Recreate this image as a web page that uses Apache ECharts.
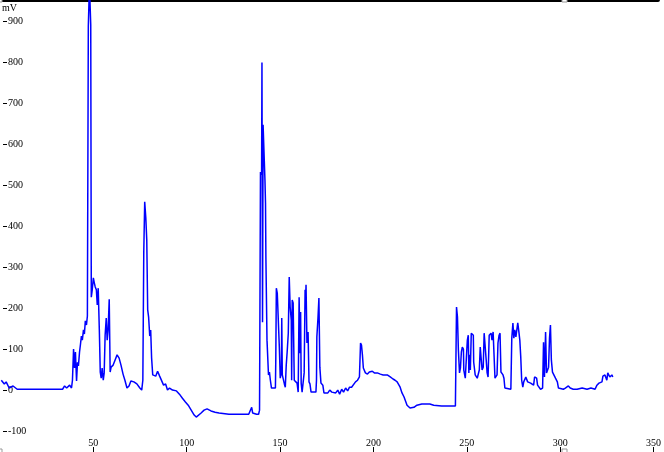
<!DOCTYPE html>
<html>
<head>
<meta charset="utf-8">
<script src="https://cdn.jsdelivr.net/npm/echarts@6/dist/echarts.min.js"></script>
<style>
  html, body { margin: 0; padding: 0; background: #fff; }
  #chart { width: 664px; height: 452px; }
</style>
</head>
<body>
<div id="chart"></div>
<script>
// retention time (x) / detector signal in mV (y)
const startRegion = [
  [0.7, 24], [2.3, 15], [3.3, 20], [4.9, 5], [7.0, 10], [9.2, 2], [21.9, 2], [33.5, 2],
  [34.6, 10], [35.7, 5], [37.3, 12], [38.3, 5], [38.8, 24], [39.4, 100], [39.9, 54], [40.4, 93],
  [41.0, 22], [41.5, 68], [42.0, 59], [42.6, 93], [43.1, 112], [43.6, 132], [44.1, 122], [44.7, 147],
  [45.2, 137], [45.7, 169], [46.3, 159], [46.8, 181], [47.3, 888], [47.9, 990], [48.4, 990], [48.6, 892],
  [48.9, 227], [49.4, 245], [50.0, 274], [50.5, 262], [51.0, 252], [51.6, 245], [52.1, 208], [52.6, 249],
  [53.2, 147], [53.7, 44], [54.2, 29], [54.7, 54], [55.3, 24], [55.8, 42], [56.3, 134], [56.9, 176],
  [57.4, 122], [57.9, 147], [58.5, 222], [59.0, 44], [59.5, 56], [60.6, 61], [61.6, 73], [62.7, 86],
  [63.8, 78], [64.8, 61], [65.9, 39], [66.9, 24], [68.0, 5], [69.1, 10], [70.1, 22], [71.7, 20],
  [73.3, 15], [74.9, 5], [75.9, 0]
]
const secondPeak = [
  [76.5, 24], [77.0, 337], [77.5, 460], [78.1, 420], [78.6, 367], [79.1, 196], [79.6, 178], [80.2, 132],
  [80.7, 147], [81.2, 78], [81.8, 37], [82.3, 39], [83.4, 34], [84.4, 46], [85.5, 34], [86.5, 37],
  [87.6, 12], [88.7, 15], [89.7, 0], [90.8, 5], [92.4, 0], [94.5, -2], [96.1, -10], [97.7, -20],
  [99.3, -29], [100.8, -37], [102.4, -49], [104.0, -61], [105.1, -66], [106.1, -64], [107.7, -56], [109.3, -49],
  [110.9, -46], [113.0, -51], [115.2, -54], [117.3, -56], [122.6, -59], [127.9, -59], [133.2, -59], [134.2, -56],
  [134.8, -42], [135.3, -56], [137.4, -59], [138.5, -59], [139.0, -49]
]
const middleCluster = [
  [139.5, 533], [140.1, 526], [140.3, 800], [140.6, 166], [140.9, 648], [141.7, 648], [141.9, 513], [142.2, 457],
  [142.4, 325], [142.7, 325], [143.0, 122], [143.5, 122], [143.8, 37], [144.3, 44], [144.8, 24], [145.4, 5],
  [147.5, 5], [147.7, 73], [148.0, 249], [148.5, 237], [149.1, 240], [149.6, 105], [150.1, 29], [150.7, 44],
  [150.9, 176], [151.2, 37], [152.3, 15], [152.8, 7], [153.3, 61], [153.8, 93], [154.4, 139], [154.9, 276],
  [155.4, 203], [156.0, 171], [156.2, 24], [156.5, 220], [157.0, 213], [157.6, 24], [159.1, 17], [159.7, -5],
  [160.2, 227], [160.7, 90], [161.0, 191], [161.3, 17], [161.8, -5], [162.3, -5], [162.9, 42], [163.4, 245],
  [163.6, 203], [163.9, 257], [164.4, 115], [165.0, 142], [165.5, 20], [166.0, 15], [166.6, -5], [169.2, -5],
  [169.5, 24], [169.7, 130], [170.3, 176], [170.8, 225], [171.3, 56], [171.9, 17], [172.9, 12], [173.5, -7]
]
const driftRegion = [
  [175.6, -7], [176.6, 0], [177.7, -5], [178.7, -2], [179.8, -7], [180.9, 0], [181.9, -10], [183.0, 2],
  [184.0, -5], [185.1, 5], [186.2, -2], [187.2, 7], [188.3, 7], [189.3, 10], [190.4, 20], [191.5, 24],
  [192.5, 32], [193.1, 115], [193.6, 110], [194.1, 86], [194.6, 54], [195.7, 42], [196.8, 39], [197.8, 44],
  [199.4, 46], [200.5, 42], [202.1, 42], [203.7, 39], [205.2, 37], [207.4, 37], [209.0, 32], [210.5, 27],
  [211.6, 24], [212.7, 20], [214.3, 7], [215.3, -7], [216.4, -17], [218.0, -37], [219.6, -44], [220.6, -44],
  [221.7, -42], [223.3, -37], [225.9, -34], [230.2, -34], [232.3, -37], [236.5, -39], [243.9, -39]
]
const lateCluster = [
  [244.5, 203], [245.0, 179], [245.5, 98], [246.1, 42], [246.6, 54], [247.1, 93], [247.6, 105], [248.2, 100],
  [248.4, 49], [249.2, 29], [249.8, 81], [250.3, 122], [250.8, 134], [251.1, 42], [251.4, 86], [251.9, 49],
  [252.4, 139], [253.5, 134], [253.7, 68], [254.5, 37], [255.6, 29], [256.1, 32], [256.7, 49], [257.2, 105],
  [257.7, 103], [258.2, 49], [258.8, 56], [259.3, 139], [259.8, 142], [260.4, 73], [260.9, 42], [261.4, 32],
  [262.0, 134], [262.5, 130], [263.0, 139], [263.5, 122], [264.1, 142], [264.6, 142], [265.1, 29], [266.2, 37],
  [266.7, 115], [267.3, 134], [267.8, 139], [268.3, 44], [269.4, 37], [269.9, 29], [270.4, 5], [273.6, 2],
  [274.1, 127], [274.7, 164], [275.2, 127], [275.7, 147], [276.3, 130], [276.8, 147], [277.3, 164], [277.9, 142],
  [278.4, 122], [278.9, 81], [279.4, 24], [280.0, 7], [280.5, 20], [281.6, 32], [282.6, 20], [284.2, 17],
  [285.8, 12], [286.3, 32], [287.4, 29], [287.9, 12], [289.5, 2], [290.6, 5], [291.1, 117], [291.6, 32],
  [292.2, 142], [292.7, 42], [293.8, 56], [294.3, 127], [294.8, 159], [295.3, 73], [295.9, 44], [297.5, 29],
  [298.5, 20], [299.1, 5]
]
const tailRegion = [
  [301.7, 2], [302.8, 5], [304.4, 10], [305.4, 5], [307.0, 2], [309.1, 2], [311.8, 5], [314.4, 2],
  [316.5, 5], [318.7, 2], [319.7, 12], [320.8, 17], [322.4, 20], [322.9, 34], [324.0, 37], [325.0, 24],
  [325.5, 42], [326.6, 32], [327.7, 37], [328.2, 32]
]

const signal = [].concat(startRegion, secondPeak, middleCluster, driftRegion, lateCluster, tailRegion)

const labelFont = { color: '#000', fontFamily: 'Liberation Serif', fontSize: 10 }

const chart = echarts.init(document.getElementById('chart'))
chart.setOption({
  animation: false,
  backgroundColor: '#fff',
  title: {
    text: 'mV',
    left: 2,
    top: 3,
    padding: 0,
    textStyle: { ...labelFont, fontWeight: 'normal' }
  },
  grid: { left: -1, right: 0, top: 0, bottom: 21 },
  xAxis: [
    {
      type: 'value',
      position: 'bottom',
      min: 0,
      max: 352.4,
      interval: 50,
      offset: 16,
      axisLine: { show: false, onZero: false },
      axisTick: { show: true, length: 5, lineStyle: { color: '#000' } },
      axisLabel: { ...labelFont, inside: true, margin: -1, showMinLabel: false, showMaxLabel: false },
      splitLine: { show: false }
    },
    {
      // top border
      type: 'value',
      position: 'top',
      min: 0,
      max: 352.4,
      axisLine: { show: true, onZero: false, lineStyle: { color: '#000', width: 4 } },
      axisTick: { show: false },
      axisLabel: { show: false },
      splitLine: { show: false }
    }
  ],
  yAxis: {
    type: 'value',
    min: -100,
    max: 953,
    interval: 100,
    offset: -3,
    axisLine: { show: false, onZero: false },
    axisTick: { show: true, inside: true, length: 4, lineStyle: { color: '#000' } },
    axisLabel: { ...labelFont, inside: true, margin: 5, showMaxLabel: false },
    splitLine: { show: false }
  },
  graphic: [
    { type: 'rect', shape: { x: -3, y: -3, width: 5, height: 5 }, style: { fill: '#fff', stroke: '#999' }, z: 100 },
    { type: 'rect', shape: { x: 562, y: -3, width: 5, height: 5 }, style: { fill: '#fff', stroke: '#999' }, z: 100 },
    { type: 'rect', shape: { x: -3, y: 449, width: 5, height: 5 }, style: { fill: '#fff', stroke: '#999' }, z: 100 },
    { type: 'rect', shape: { x: 562, y: 449, width: 5, height: 5 }, style: { fill: '#fff', stroke: '#999' }, z: 100 }
  ],
  series: [
    {
      type: 'line',
      xAxisIndex: 0,
      data: signal,
      symbol: 'none',
      lineStyle: { color: '#0000ff', width: 1.5 }
    }
  ]
})
</script>
</body>
</html>
